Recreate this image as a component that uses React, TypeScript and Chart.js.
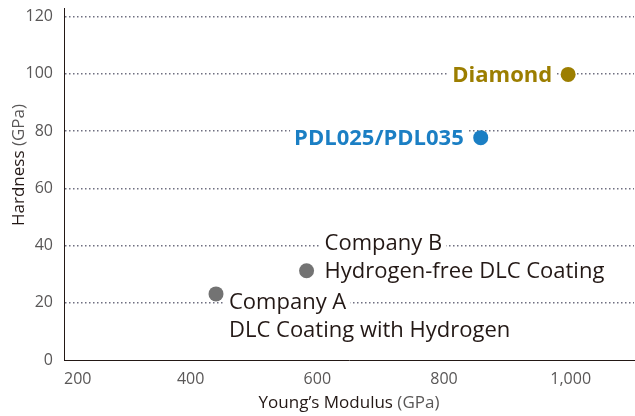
import React, { useEffect, useRef } from "react";
import { Chart, registerables } from "chart.js";
Chart.register(...registerables);

const materials = ["Diamond", "PDL025/PDL035", "Company B", "Company A"];
const youngsModulus = [996, 858, 583, 440];
const hardness = [99.8, 77.7, 31.2, 23.1];
const labelLines: string[][] = [
  ["Diamond"],
  ["PDL025/PDL035"],
  ["Company B", "Hydrogen-free DLC Coating"],
  ["Company A", "DLC Coating with Hydrogen"],
];
const pointColors = ["#9c7e00", "#1b7fc4", "#737373", "#737373"];
const xTicks = [200, 400, 600, 800, 1000];
const yTicks = [0, 20, 40, 60, 80, 100, 120];

const FONT = "'Open Sans', 'Noto Sans', sans-serif";
const DARK = "#231815";
const GRAY = "#595757";

// label style per point: alignment, offset from point, bold, colour
const labelStyles = [
  { align: "right", dx: -16, dy: 0, bold: true, color: "#9c7e00" },
  { align: "right", dx: -17, dy: 0, bold: true, color: "#1b7fc4" },
  { align: "left", dx: 18, dy: -28, bold: false, color: DARK },
  { align: "left", dx: 13, dy: 8, bold: false, color: DARK },
];

const labelPlugin = {
  id: "pointLabels",
  beforeDatasetsDraw(chart: any) {
    const { ctx, scales } = chart;
    ctx.save();
    ctx.textBaseline = "middle";
    materials.forEach((_, i) => {
      const st = labelStyles[i];
      const px = scales.x.getPixelForValue(youngsModulus[i]);
      const py = scales.y.getPixelForValue(hardness[i]);
      ctx.font = `${st.bold ? "bold " : ""}22px ${FONT}`;
      labelLines[i].forEach((line, j) => {
        const w = ctx.measureText(line).width;
        const x = st.align === "right" ? px + st.dx - w : px + st.dx;
        const y = py + st.dy + j * 28;
        ctx.fillStyle = "#ffffff";
        ctx.fillRect(x - 4, y - 11, w + 8, 22);
        ctx.fillStyle = st.color;
        ctx.textAlign = "left";
        ctx.fillText(line, x, y + 1);
      });
    });
    ctx.restore();
  },
  afterDraw(chart: any) {
    const { ctx, chartArea } = chart;
    ctx.save();
    ctx.textBaseline = "middle";
    ctx.textAlign = "left";
    ctx.font = `17px ${FONT}`;
    const a = "Young\u2019s Modulus ";
    const b = "(GPa)";
    const wa = ctx.measureText(a).width;
    const wb = ctx.measureText(b).width;
    const cx = (chartArea.left + chartArea.right) / 2;
    let x0 = cx - (wa + wb) / 2;
    ctx.fillStyle = DARK;
    ctx.fillText(a, x0, 403);
    ctx.fillStyle = GRAY;
    ctx.fillText(b, x0 + wa, 403);

    const c = "Hardness ";
    const d = "(GPa)";
    const wc = ctx.measureText(c).width;
    const wd = ctx.measureText(d).width;
    ctx.translate(19, 165);
    ctx.rotate(-Math.PI / 2);
    x0 = -(wc + wd) / 2;
    ctx.fillStyle = DARK;
    ctx.fillText(c, x0, 0);
    ctx.fillStyle = GRAY;
    ctx.fillText(d, x0 + wc, 0);
    ctx.restore();
  },
};

export default function App() {
  const ref = useRef<HTMLCanvasElement>(null);
  useEffect(() => {
    if (!ref.current) return;
    const chart = new Chart(ref.current, {
      type: "scatter",
      data: {
        datasets: [
          {
            label: "Materials",
            data: materials.map((_, i) => ({ x: youngsModulus[i], y: hardness[i] })),
            pointRadius: 7.5,
            pointHoverRadius: 7.5,
            pointBackgroundColor: pointColors,
            pointBorderColor: pointColors,
            pointBorderWidth: 0,
          },
        ],
      },
      options: {
        animation: false,
        responsive: true,
        maintainAspectRatio: false,
        layout: { autoPadding: false, padding: { top: 8, right: 1, left: 0, bottom: 0 } },
        plugins: { legend: { display: false }, tooltip: { enabled: false } },
        scales: {
          x: {
            type: "linear",
            min: 200,
            max: 1100,
            afterBuildTicks: (s: any) => {
              s.ticks = [...xTicks, 1100].map((v) => ({ value: v }));
            },
            afterFit: (s: any) => {
              s.height = 56;
              s.paddingLeft = 0;
              s.paddingRight = 0;
            },
            grid: { display: false, drawTicks: false },
            border: { display: true, color: DARK, width: 1 },
            ticks: {
              align: "inner",
              padding: 10,
              color: GRAY,
              font: { family: FONT, size: 16 },
              maxRotation: 0,
              autoSkip: false,
              callback: (v: any) => (v === 1100 ? "" : Number(v).toLocaleString("en-US")),
            },
          },
          y: {
            type: "linear",
            min: 0,
            max: 123,
            afterBuildTicks: (s: any) => {
              s.ticks = yTicks.map((v) => ({ value: v }));
            },
            afterFit: (s: any) => {
              s.width = 64;
              s.paddingTop = 0;
              s.paddingBottom = 0;
            },
            grid: {
              drawTicks: false,
              color: (c: any) => (c.tick && c.tick.value === 0 ? "rgba(0,0,0,0)" : "#6f6f80"),
              lineWidth: 1.5,
            },
            border: { display: true, color: DARK, width: 1, dash: [1.5, 2.5] },
            ticks: {
              padding: 11,
              color: GRAY,
              font: { family: FONT, size: 16 },
              autoSkip: false,
            },
          },
        },
      },
      plugins: [labelPlugin],
    });
    return () => chart.destroy();
  }, []);
  return (
    <div style={{ position: "absolute", left: 0, top: 0, width: 635, height: 416, background: "#fff" }}>
      <canvas ref={ref} />
    </div>
  );
}
